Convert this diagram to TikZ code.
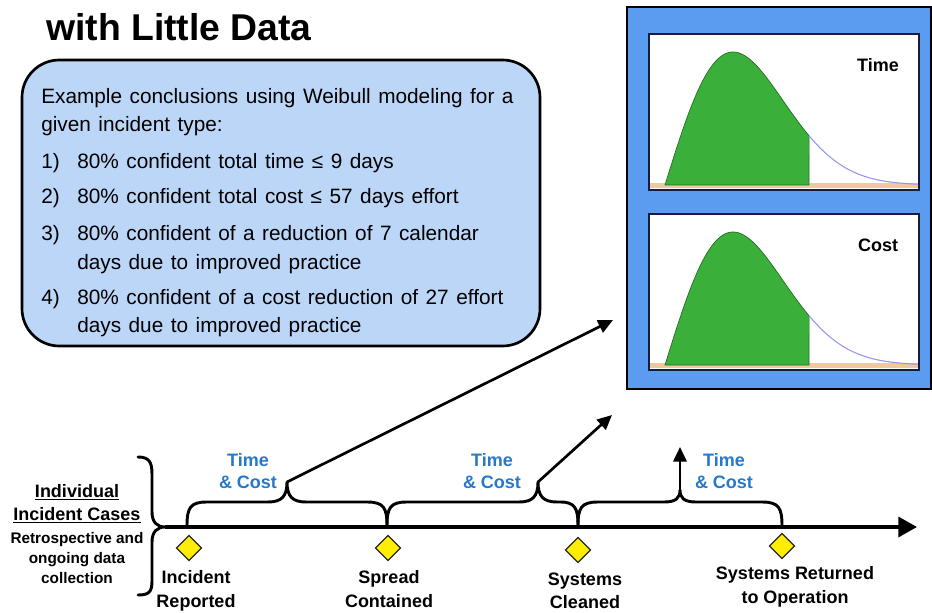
\documentclass[tikz,border=0pt]{standalone}
\usepackage{fontspec}
\setmainfont{Liberation Sans}
\usetikzlibrary{arrows.meta,shapes.geometric}
\definecolor{boxblue}{RGB}{188,214,248}
\definecolor{panelblue}{RGB}{91,155,240}
\definecolor{curvegreen}{RGB}{58,176,58}
\definecolor{tailblue}{RGB}{150,150,235}
\definecolor{stripe}{RGB}{240,200,160}
\definecolor{framenavy}{RGB}{20,30,60}
\definecolor{tcblue}{RGB}{40,120,200}
\definecolor{diayellow}{RGB}{255,238,0}
\newcommand\mywidespace{\spaceskip 0.36em\relax}
\begin{document}
\begin{tikzpicture}[x=0.75pt,y=-0.75pt,
  boxtext/.style={anchor=base west,inner sep=0pt,font=\fontsize{15.6}{18}\selectfont\mywidespace},
  tctext/.style={text=tcblue,font=\bfseries\fontsize{13.5}{17}\selectfont,align=center,inner sep=0pt},
  evtext/.style={font=\bfseries\fontsize{13.5}{17.5}\selectfont,align=center,inner sep=0pt},
  evmark/.style={diamond,aspect=1,draw=black!85,line width=0.9pt,fill=diayellow,minimum width=19pt,minimum height=19pt,inner sep=0pt},
  bracepath/.style={line width=2.2pt,line cap=round,line join=round},
  bigarrow/.style={line width=2pt,-{Triangle[length=11pt,width=10pt]}},
  plotlabel/.style={font=\bfseries\fontsize{13.5}{16}\selectfont,inner sep=0pt}
]
\useasboundingbox (0,0) rectangle (932,613);

% title
\node[anchor=base west,inner sep=0pt,font=\bfseries\fontsize{28}{32}\selectfont] (title) at (46,41) {with Little Data};

% conclusions box
\draw[line width=2pt,fill=boxblue,rounded corners=28pt] (22,60) rectangle (540,346);
\node[boxtext] (l1) at (41,104) {Example conclusions using Weibull modeling for a};
\node[boxtext] (l2) at (41,132) {given incident type:};
\node[boxtext] (n1) at (41,169) {1)};
\node[boxtext] (i1) at (77,169) {80\% confident total time ≤ 9 days};
\node[boxtext] (n2) at (41,204) {2)};
\node[boxtext] (i2) at (77,204) {80\% confident total cost ≤ 57 days effort};
\node[boxtext] (n3) at (41,240) {3)};
\node[boxtext] (i3a) at (77,240) {80\% confident of a reduction of 7 calendar};
\node[boxtext] (i3b) at (77,269) {days due to improved practice};
\node[boxtext] (n4) at (41,304) {4)};
\node[boxtext] (i4a) at (77,304) {80\% confident of a cost reduction of 27 effort};
\node[boxtext] (i4b) at (77,332) {days due to improved practice};

% right panel
\draw[line width=2.2pt,fill=panelblue] (627,7) rectangle (931,389);
\foreach \o/\lab/\nm in {0/Time/ptime,180/Cost/pcost}{
  \draw[framenavy,line width=1.5pt,fill=white] (649,34+\o) rectangle (919,190+\o);
  \fill[stripe] (650,183+\o) rectangle (918,188+\o);
  \filldraw[fill=curvegreen,draw=curvegreen!60!black,line width=0.5pt]
    plot[domain=0:2.12,samples=70] ({665+68*\x},{185+\o-133*\x*exp(-(\x*\x-1)/2)}) -- (809,185+\o) -- cycle;
  \draw[tailblue,line width=0.8pt]
    plot[domain=2.12:3.72,samples=50] ({665+68*\x},{185+\o-133*\x*exp(-(\x*\x-1)/2)});
  \draw[framenavy,line width=1.5pt] (649,34+\o) rectangle (919,190+\o);
  \node[plotlabel] (\nm) at (878,65+\o) {\lab};
}

% left label and brace
\node[font=\bfseries\fontsize{13.5}{17}\selectfont,inner sep=0pt] (indiv) at (77,492) {\underline{Individual}};
\node[font=\bfseries\fontsize{13.5}{17}\selectfont,inner sep=0pt] (cases) at (77,515) {\underline{Incident Cases}};
\node[font=\bfseries\fontsize{11.5}{15}\selectfont,align=center,inner sep=0pt] (retro) at (77,558) {Retrospective and\\ongoing data\\collection};
\coordinate (btip) at (165,527);
\draw[bracepath] (138,457) .. controls (149,457) and (152,462) .. (152,474) -- (152,512)
  .. controls (152,522) and (157,527) .. (btip)
  .. controls (157,527) and (152,532) .. (152,542) -- (152,581)
  .. controls (152,592) and (149,595) .. (138,595);

% axis
\coordinate (axend) at (917,527);
\draw[line width=2.6pt,-{Triangle[length=14pt,width=15pt]}] (btip) -- (axend);

% event markers
\node[evmark] (d1) at (189,548) {};
\node[evmark] (d2) at (388,548) {};
\node[evmark] (d3) at (578,550) {};
\node[evmark] (d4) at (782,546) {};
\node[evtext] (e1) at (196,591) {Incident\\Reported};
\node[evtext] (e2) at (389,589) {Spread\\Contained};
\node[evtext] (e3) at (585,591) {Systems\\Cleaned};
\node[evtext] (e4) at (795,587) {Systems Returned\\to Operation};

% braces above axis
\coordinate (c1) at (287,482);
\coordinate (c2) at (538,482);
\coordinate (c3) at (680,490);
\draw[bracepath] (187,526) .. controls (187,508) and (190,502) .. (207,502) -- (268,502)
  .. controls (282,502) and (287,496) .. (c1)
  .. controls (287,496) and (292,502) .. (306,502) -- (367,502)
  .. controls (384,502) and (387,508) .. (387,526);
\draw[bracepath] (387,526) .. controls (387,508) and (390,502) .. (407,502) -- (519,502)
  .. controls (533,502) and (538,496) .. (c2)
  .. controls (538,496) and (543,502) .. (557,502) -- (560,502)
  .. controls (575,502) and (578,508) .. (578,526);
\draw[bracepath] (578,526) .. controls (578,508) and (581,502) .. (598,502) -- (664,502)
  .. controls (676,502) and (680,498) .. (c3)
  .. controls (680,498) and (684,502) .. (696,502) -- (762,502)
  .. controls (779,502) and (782,508) .. (782,526);

% arrows to panel
\coordinate (t1) at (613,320);
\coordinate (t2) at (612,415);
\coordinate (t3) at (680,447);
\draw[bigarrow] (c1) -- (t1);
\draw[bigarrow] (c2) -- (t2);
\draw[bigarrow] (c3) -- (t3);

% Time & Cost labels
\node[tctext] (tc1) at (248,471) {Time\\\& Cost};
\node[tctext] (tc2) at (492,471) {Time\\\& Cost};
\node[tctext] (tc3) at (724,471) {Time\\\& Cost};
\end{tikzpicture}
\end{document}
